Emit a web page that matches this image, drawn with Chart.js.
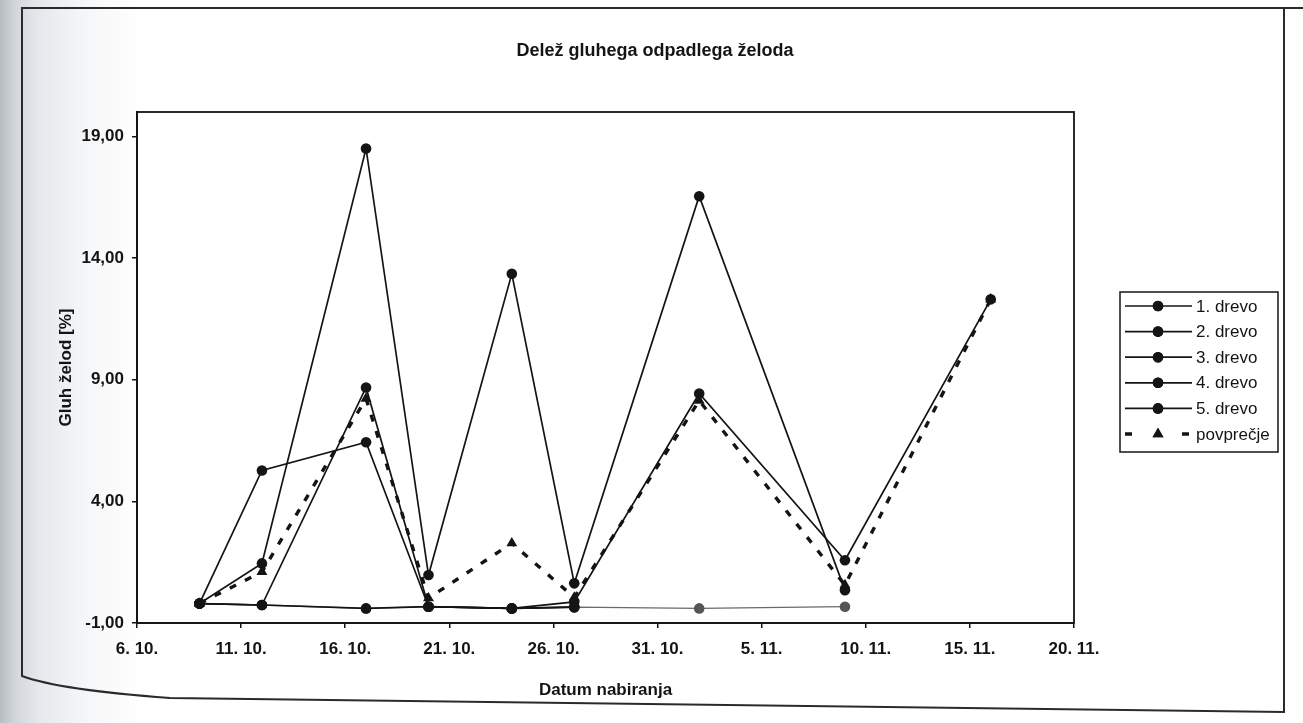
<!DOCTYPE html>
<html><head><meta charset="utf-8">
<script src="https://cdn.jsdelivr.net/npm/chart.js@4.4.1/dist/chart.umd.min.js"></script>
<style>
html,body{margin:0;padding:0;width:1303px;height:723px;overflow:hidden;
background:linear-gradient(to right,#b8bdc3 0px,#d3d7dc 16px,#e6e9ec 40px,#f5f6f7 85px,#ffffff 140px);}
#wrap{position:absolute;left:0;top:0;width:1303px;height:723px;}
</style></head><body>
<div id="wrap"><canvas id="c" width="1303" height="723"></canvas></div>
<script>
// ---------- data ----------
const chartTitle = 'Delež gluhega odpadlega želoda';
const yTitle = 'Gluh želod [%]';
const xTitle = 'Datum nabiranja';
const axisStart = '2000-10-06';
const dates = ['2000-10-09','2000-10-12','2000-10-17','2000-10-20','2000-10-24','2000-10-27','2000-11-02','2000-11-09','2000-11-16'];
const seriesNames = ['1. drevo','2. drevo','3. drevo','4. drevo','5. drevo','povprečje'];
const tree1 = [-0.2, 1.45, 18.5, 0.97, 13.35, 0.63, 16.54, 0.35, null];
const tree2 = [-0.2, -0.26, 8.68, -0.33, -0.4, -0.13, 8.43, 1.58, 12.3];
const tree3 = [-0.2, 5.27, 6.43, -0.33, -0.4, -0.35, null, null, null];
const tree4 = [-0.2, -0.26, -0.4, -0.33, -0.4, -0.35, -0.4, -0.33, null];
const tree5 = [-0.2, -0.26, -0.4, -0.33, -0.4, -0.35, null, null, null];
const average = [-0.2, 1.1, 8.22, 0.02, 2.28, 0.05, 8.14, 0.56, 12.3];
const xTickLabels = ['6. 10.','11. 10.','16. 10.','21. 10.','26. 10.','31. 10.','5. 11.','10. 11.','15. 11.','20. 11.'];
const yTickValues = [-1, 4, 9, 14, 19];
const yTickLabels = ['-1,00','4,00','9,00','14,00','19,00'];
const yMin = -1, yMax = 20;

// ---------- helpers ----------
const DAY = 86400000;
const t0 = Date.parse(axisStart);
const dayOf = s => Math.round((Date.parse(s) - t0) / DAY);
const dayOfLabel = s => { const p = s.split('.').map(x => parseInt(x, 10)); return Math.round((Date.UTC(2000, p[1]-1, p[0]) - t0) / DAY); };
const xs = dates.map(dayOf);
const xTickValues = xTickLabels.map(dayOfLabel);
const pts = arr => arr.map((v, i) => ({x: xs[i], y: v}));

const FAM = '"Liberation Sans", Arial, Helvetica, sans-serif';
const INK = '#141414';

const treeStyle = {
  borderColor: INK, backgroundColor: INK, borderWidth: 1.7,
  pointStyle: 'circle', pointRadius: 5.3, pointBackgroundColor: INK, pointBorderColor: INK, pointBorderWidth: 0,
  tension: 0, spanGaps: false
};
const treeData = [tree1, tree2, tree3, tree4, tree5];
const datasets = treeData.map((arr, i) => Object.assign({label: seriesNames[i], data: pts(arr), order: 1}, treeStyle));
// the 4th tree is printed with a fainter, thinner line in the scan
Object.assign(datasets[3], {borderColor: '#6a6a6a', borderWidth: 1.3, pointBackgroundColor: '#555', pointBorderColor: '#555', order: 2});
datasets.push({
  label: seriesNames[5], data: pts(average), order: 0,
  borderColor: INK, backgroundColor: INK, borderWidth: 3.4, borderDash: [7, 10],
  pointStyle: 'triangle', pointRadius: 6.3, pointBackgroundColor: INK, pointBorderColor: INK, pointBorderWidth: 0,
  tension: 0, spanGaps: false
});

// ---------- plugins ----------
const paperPlugin = {
  id: 'paper',
  beforeDraw(chart) {
    const ctx = chart.ctx;
    ctx.save();
    ctx.strokeStyle = '#2a2a2a';
    ctx.lineWidth = 2;
    ctx.beginPath();
    ctx.moveTo(1303, 8); ctx.lineTo(22, 8); ctx.lineTo(22, 676);
    ctx.quadraticCurveTo(60, 690, 170, 698);
    ctx.lineTo(1284, 712);
    ctx.lineTo(1284, 8);
    ctx.stroke();
    ctx.restore();
  }
};
const framePlugin = {
  id: 'frame',
  afterDraw(chart) {
    const {ctx, chartArea: a} = chart;
    ctx.save();
    ctx.strokeStyle = INK; ctx.lineWidth = 1.8;
    ctx.strokeRect(a.left, a.top, a.right - a.left, a.bottom - a.top);
    ctx.fillStyle = INK;
    ctx.font = 'bold 18px ' + FAM;
    ctx.textAlign = 'center'; ctx.textBaseline = 'middle';
    ctx.fillText(chartTitle, 655, 51);
    ctx.restore();
  }
};
const legendPlugin = {
  id: 'boxLegend',
  afterDraw(chart) {
    const ctx = chart.ctx;
    const lx = 1120, ly = 292, lw = 158, lh = 160, step = 25.6;
    ctx.save();
    ctx.fillStyle = '#fff';
    ctx.fillRect(lx, ly, lw, lh);
    ctx.strokeStyle = INK; ctx.lineWidth = 1.5;
    ctx.strokeRect(lx, ly, lw, lh);
    ctx.font = '17px ' + FAM;
    ctx.textAlign = 'left'; ctx.textBaseline = 'middle';
    chart.data.datasets.forEach((ds, i) => {
      const y = ly + 14 + i * step;
      const mx = lx + 38;
      ctx.strokeStyle = INK; ctx.fillStyle = INK;
      if (ds.borderDash && ds.borderDash.length) {
        ctx.lineWidth = 3.4;
        ctx.beginPath();
        ctx.moveTo(lx + 5, y); ctx.lineTo(lx + 12, y);
        ctx.moveTo(lx + 62, y); ctx.lineTo(lx + 69, y);
        ctx.stroke();
      } else {
        ctx.lineWidth = 1.7;
        ctx.beginPath(); ctx.moveTo(lx + 5, y); ctx.lineTo(lx + 72, y); ctx.stroke();
      }
      Chart.helpers.drawPoint(ctx, {pointStyle: ds.pointStyle, radius: ds.pointRadius, rotation: 0, borderWidth: 0}, mx, y);
      ctx.fill();
      ctx.fillStyle = INK;
      ctx.fillText(ds.label, lx + 76, y + 1);
    });
    ctx.restore();
  }
};

const boldFont = size => ({family: FAM, size: size, weight: 'bold'});

new Chart(document.getElementById('c'), {
  type: 'line',
  data: {datasets},
  plugins: [paperPlugin, framePlugin, legendPlugin],
  options: {
    responsive: false, animation: false, devicePixelRatio: 1,
    layout: {padding: {top: 112, right: 229, left: 0, bottom: 0}},
    plugins: {legend: {display: false}, title: {display: false}, tooltip: {enabled: false}},
    scales: {
      x: {
        type: 'linear', min: xTickValues[0], max: xTickValues[xTickValues.length - 1],
        afterBuildTicks: s => { s.ticks = xTickValues.map(v => ({value: v})); },
        afterFit: s => { s.height = 100; },
        ticks: {callback: (v, i) => xTickLabels[i], font: boldFont(17), color: INK, padding: 11, maxRotation: 0, autoSkip: false},
        grid: {drawOnChartArea: false, drawTicks: true, tickLength: 5, color: INK, lineWidth: 1.5},
        border: {color: INK, width: 1.8},
        title: {display: true, text: xTitle, font: boldFont(17), color: INK, padding: {top: 0, bottom: 22}}
      },
      y: {
        type: 'linear', min: yMin, max: yMax,
        afterBuildTicks: s => { s.ticks = yTickValues.map(v => ({value: v})); },
        afterFit: s => { s.width = 137; },
        ticks: {callback: (v, i) => yTickLabels[i], font: boldFont(17), color: INK, padding: 8},
        grid: {drawOnChartArea: false, drawTicks: true, tickLength: 5, color: INK, lineWidth: 1.5},
        border: {color: INK, width: 1.8},
        title: {display: true, text: yTitle, font: boldFont(17), color: INK, padding: {top: 56, bottom: 0}}
      }
    }
  }
});
</script>
</body></html>
